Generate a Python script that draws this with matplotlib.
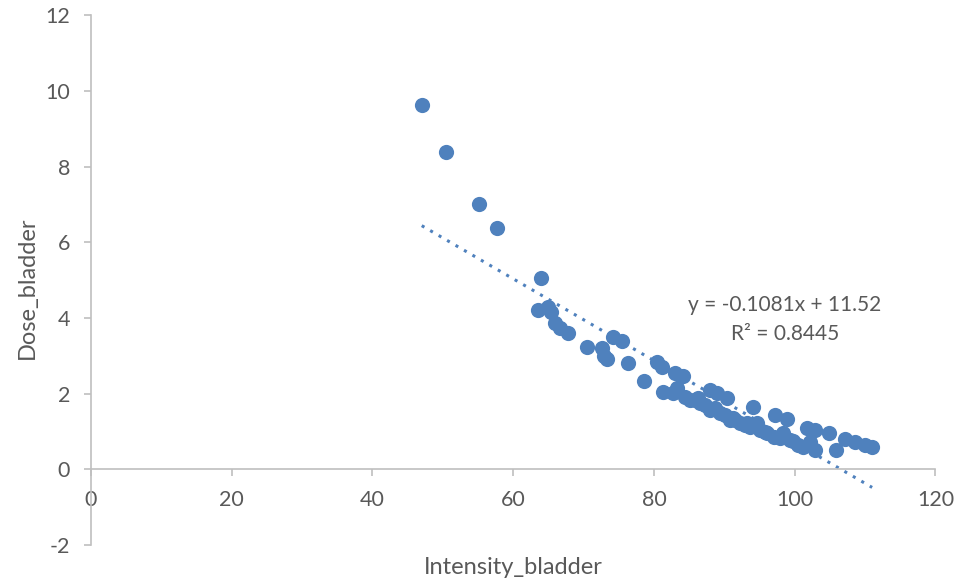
import matplotlib.pyplot as plt

# values
intensity = [47.0, 50.4, 55.2, 57.7, 63.9, 63.5, 64.9, 65.3, 65.9, 66.6, 67.8,
             70.5, 72.6, 73.3, 72.9, 74.2, 75.4, 76.3, 78.6, 80.4, 81.1, 81.3,
             83.0, 84.1, 83.3, 82.7, 84.4, 85.1, 85.8, 86.3, 86.5, 87.3, 88.0,
             89.0, 90.4, 88.0, 88.7, 89.4, 90.1, 90.8, 91.2, 91.5, 92.2, 93.0,
             94.1, 93.2, 93.7, 94.7, 95.1, 95.8, 96.1, 97.0, 97.2, 97.9, 98.4,
             98.9, 99.4, 99.8, 100.5, 101.2, 101.8, 102.2, 102.9, 102.9, 104.8,
             105.8, 107.2, 108.6, 110.0, 111.0]
dose = [9.63, 8.39, 7.01, 6.38, 5.05, 4.21, 4.29, 4.15, 3.86, 3.73, 3.60,
        3.23, 3.20, 2.91, 2.99, 3.49, 3.39, 2.80, 2.33, 2.83, 2.70, 2.04,
        2.54, 2.46, 2.14, 2.01, 1.90, 1.83, 1.83, 1.88, 1.75, 1.69, 2.09,
        2.01, 1.88, 1.56, 1.61, 1.48, 1.43, 1.30, 1.35, 1.30, 1.22, 1.16,
        1.64, 1.22, 1.11, 1.22, 1.03, 0.98, 0.95, 0.85, 1.43, 0.82, 0.95,
        1.32, 0.77, 0.74, 0.63, 0.58, 1.08, 0.71, 1.03, 0.50, 0.95,
        0.50, 0.79, 0.71, 0.63, 0.58]

slope = -0.1081
intercept = 11.52
r2 = 0.8445

blue = "#4f81bd"
grey = "#595959"
axis_grey = "#bfbfbf"

plt.rcParams['font.family'] = ['Lato', 'DejaVu Sans']
plt.rcParams['axes.unicode_minus'] = False

fig = plt.figure(figsize=(9.64, 5.86), dpi=100)
ax = fig.add_axes([0.0944, 0.070, 0.876, 0.904])

ax.scatter(intensity, dose, s=120, color=blue, zorder=3, linewidths=0)

x0, x1 = min(intensity), max(intensity)
ax.plot([x0, x1], [slope * x0 + intercept, slope * x1 + intercept],
        linestyle=(0, (1, 2.2)), color=blue, linewidth=2.2, zorder=2)

ax.text(785 / 964, 1 - 305 / 586, f"y = {slope}x + {intercept}",
        transform=fig.transFigure, ha="center", va="center", fontsize=15, color=grey)
ax.text(785 / 964, 1 - 334 / 586, f"R² = {r2}",
        transform=fig.transFigure, ha="center", va="center", fontsize=15, color=grey)

ax.set_xlim(0, 120)
ax.set_ylim(-2, 12)
ax.set_xticks(range(0, 121, 20))
ax.set_yticks(range(-2, 13, 2))

for side in ["top", "right"]:
    ax.spines[side].set_visible(False)
ax.spines["bottom"].set_position(("data", 0))
ax.spines["bottom"].set_color(axis_grey)
ax.spines["left"].set_color(axis_grey)
ax.spines["bottom"].set_linewidth(1.2)
ax.spines["left"].set_linewidth(1.2)

ax.tick_params(axis="both", colors=axis_grey, labelcolor=grey, labelsize=15.5,
               length=5, width=1.2)
ax.tick_params(axis="x", direction="out", pad=10)
ax.tick_params(axis="y", direction="out", pad=10)

fig.text(513 / 964, 1 - 568 / 586, "Intensity_bladder", ha="center", va="center",
         fontsize=17, color=grey)
fig.text(27 / 964, 1 - 288 / 586, "Dose_bladder", ha="center", va="center",
         rotation=90, fontsize=17, color=grey)

fig.savefig("out.png", dpi=100)
